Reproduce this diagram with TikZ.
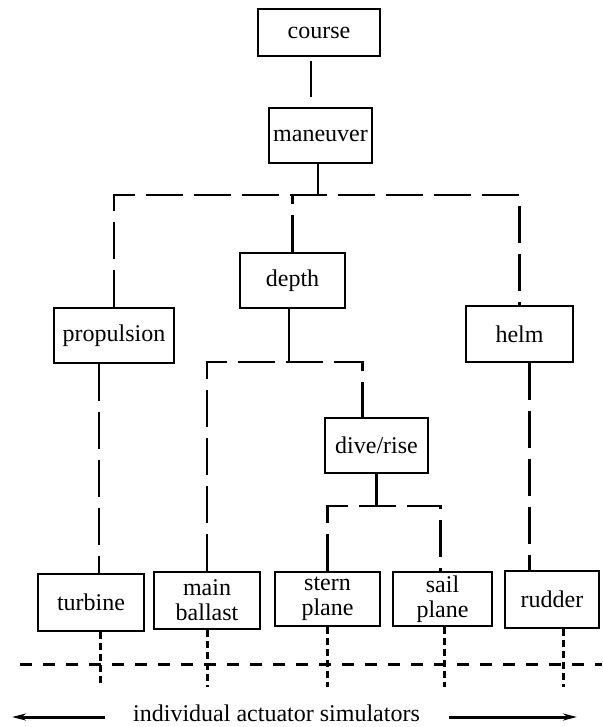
\documentclass[tikz,border=0pt]{standalone}
\usepackage{fontspec}
\setmainfont{Liberation Serif}
\usetikzlibrary{arrows.meta}

\begin{document}
\begin{tikzpicture}[x=1pt,y=-1pt]
	\tikzstyle{every node}=[font=\fontsize{24}{25}\selectfont]
	\tikzstyle{unit}=[draw,line width=2.8pt,inner sep=0pt,align=center]
	\tikzstyle{solidlink}=[line width=2.8pt]
	\tikzstyle{dashlink}=[line width=2.8pt,dash pattern=on 37pt off 11pt]
	\tikzstyle{outlink}=[line width=3pt,dash pattern=on 7pt off 4pt]
	\tikzstyle{busline}=[line width=3pt,dash pattern=on 12pt off 11pt]
	\tikzstyle{spanarrow}=[line width=3pt,-{Stealth[length=14pt,width=7pt]}]
	\useasboundingbox (0,0) rectangle (602,727);
	% controllers
	\node[unit,minimum width=122pt,minimum height=47pt] (course) at (319,32.5) {course};
	\node[unit,minimum width=103pt,minimum height=55pt] (maneuver) at (320.5,135.5) {maneuver};
	\node[unit,minimum width=105pt,minimum height=55pt] (depth) at (292.5,280.5) {depth};
	\node[unit,minimum width=120pt,minimum height=55pt] (propulsion) at (114,335.5) {propulsion};
	\node[unit,minimum width=107pt,minimum height=56pt] (helm) at (519.5,334) {helm};
	\node[unit,minimum width=103pt,minimum height=55pt] (diverise) at (376.5,445.5) {dive/rise};
	% actuators
	\node[unit,minimum width=106pt,minimum height=57pt] (turbine) at (91,602.5) {turbine};
	\node[unit,minimum width=106pt,minimum height=57pt] (ballast) at (207,600.5) {main\\ballast};
	\node[unit,minimum width=105pt,minimum height=54pt] (stern) at (327.5,599) {stern\\plane};
	\node[unit,minimum width=99pt,minimum height=54pt] (sail) at (442.5,599) {sail\\plane};
	\node[unit,minimum width=94pt,minimum height=57pt] (rudder) at (552,599.5) {rudder};
	\node[inner sep=0pt] (simlabel) at (276.5,713) {individual actuator simulators};
	\coordinate (forkA) at (318,195);
	\coordinate (forkB) at (289,362);
	\coordinate (forkC) at (377,506);
	\coordinate (stubend) at (0,687);
	\coordinate (busleft) at (20,664);
	\coordinate (busright) at (602,664);
	\coordinate (leftend) at (12,717);
	\coordinate (rightend) at (577,717);
	% links
	\draw[solidlink] ([xshift=-8pt,yshift=-4pt]course.south) -- ++(0,36);
	\draw[solidlink] (maneuver.south -| forkA) -- (forkA);
	\draw[dashlink] (propulsion.north) |- (forkA) -| (helm.north);
	\draw[dashlink] (depth.north) -- (depth.north |- forkA);
	\draw[solidlink] (depth.south -| forkB) -- (forkB);
	\draw[dashlink] (ballast.north) |- (forkB) -| ([xshift=-14pt]diverise.north);
	\draw[solidlink] (diverise.south) -- (diverise.south |- forkC);
	\draw[dashlink] (stern.north) |- (forkC) -| ([xshift=-2pt]sail.north);
	\draw[dashlink] ([xshift=-15pt]propulsion.south) -- ([xshift=-15pt]propulsion.south |- turbine.north);
	\draw[dashlink] ([xshift=10pt]helm.south) -- ([xshift=10pt]helm.south |- rudder.north);
	% outputs to simulators
	\draw[outlink] ([xshift=9pt]turbine.south) -- ([xshift=9pt]turbine.south |- stubend);
	\draw[outlink] (ballast.south) -- (ballast.south |- stubend);
	\draw[outlink] (stern.south) -- (stern.south |- stubend);
	\draw[outlink] ([xshift=2pt]sail.south) -- ([xshift=2pt]sail.south |- stubend);
	\draw[outlink] ([xshift=11pt]rudder.south) -- ([xshift=11pt]rudder.south |- stubend);
	\draw[busline] (busleft) -- (busright);
	\draw[spanarrow] ([xshift=-28pt,yshift=-4pt]simlabel.west) -- (leftend);
	\draw[spanarrow] ([xshift=29pt,yshift=-4pt]simlabel.east) -- (rightend);
\end{tikzpicture}
\end{document}
